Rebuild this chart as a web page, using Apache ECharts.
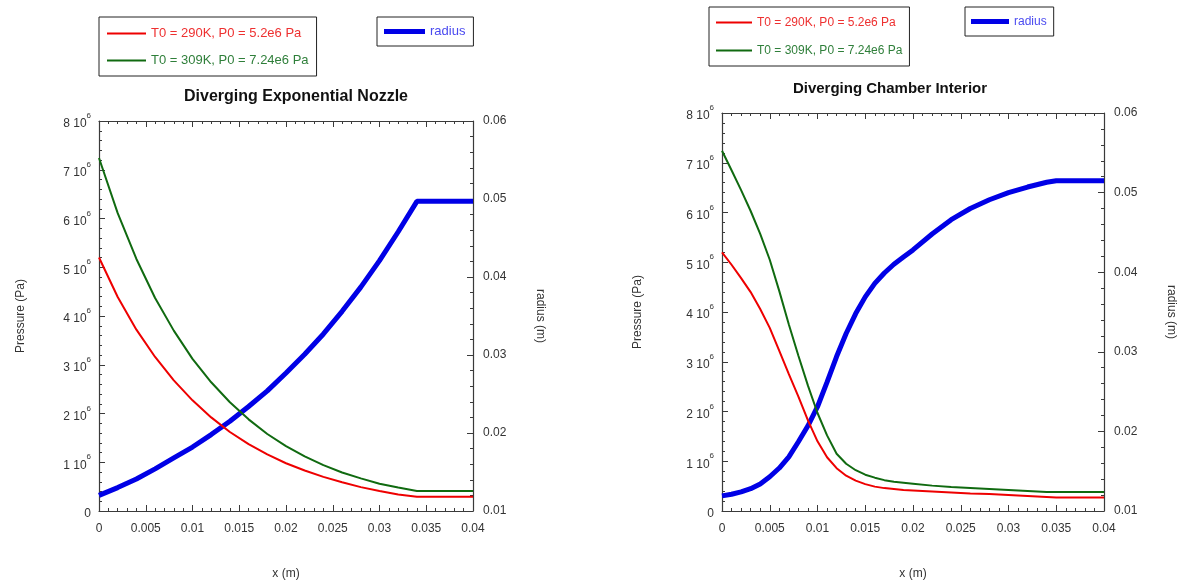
<!DOCTYPE html>
<html>
<head>
<meta charset="utf-8">
<script src="https://cdn.jsdelivr.net/npm/echarts@6/dist/echarts.min.js"></script>
<style>
html,body{margin:0;padding:0;background:#fff;}
#c{width:1182px;height:585px;}
</style>
</head>
<body>
<div id="c"></div>
<script>
// ---------- Data ----------
const nameRed = 'T0 = 290K, P0 = 5.2e6 Pa';
const nameGreen = 'T0 = 309K, P0 = 7.24e6 Pa';
const nameRadius = 'radius';

const titleNozzle = 'Diverging Exponential Nozzle';
const titleChamber = 'Diverging Chamber Interior';

// Diverging Exponential Nozzle (x in m, pressure in Pa, radius in m)
const nozzleX = [0,0.002,0.004,0.006,0.008,0.010,0.012,0.014,0.016,0.018,0.020,0.022,0.024,0.026,0.028,0.030,0.032,0.034,0.040];
const nozzleRed = [5.20e6,4.39e6,3.72e6,3.16e6,2.68e6,2.27e6,1.92e6,1.62e6,1.37e6,1.16e6,0.98e6,0.83e6,0.70e6,0.59e6,0.49e6,0.41e6,0.34e6,0.29e6,0.29e6];
const nozzleGreen = [7.24e6,6.11e6,5.17e6,4.37e6,3.70e6,3.12e6,2.64e6,2.23e6,1.88e6,1.58e6,1.33e6,1.12e6,0.94e6,0.79e6,0.67e6,0.56e6,0.48e6,0.41e6,0.41e6];
const nozzleRadius = [0.0120,0.0130,0.0141,0.0154,0.0168,0.0182,0.0198,0.0215,0.0234,0.0254,0.0277,0.0301,0.0327,0.0356,0.0387,0.0421,0.0458,0.0497,0.0497];

// Diverging Chamber Interior
const chamberX = [0,0.001,0.002,0.003,0.004,0.005,0.006,0.007,0.008,0.009,0.010,0.011,0.012,0.013,0.014,0.015,0.016,0.017,0.018,0.019,0.020,0.022,0.024,0.026,0.028,0.030,0.032,0.034,0.035,0.040];
const chamberRed = [5.20e6,4.95e6,4.68e6,4.40e6,4.06e6,3.68e6,3.22e6,2.75e6,2.30e6,1.82e6,1.40e6,1.08e6,0.86e6,0.71e6,0.61e6,0.54e6,0.49e6,0.46e6,0.44e6,0.42e6,0.41e6,0.39e6,0.37e6,0.35e6,0.34e6,0.32e6,0.30e6,0.28e6,0.27e6,0.27e6];
const chamberGreen = [7.24e6,6.85e6,6.45e6,6.03e6,5.57e6,5.05e6,4.42e6,3.75e6,3.12e6,2.52e6,1.97e6,1.52e6,1.15e6,0.95e6,0.82e6,0.73e6,0.67e6,0.62e6,0.59e6,0.57e6,0.55e6,0.51e6,0.48e6,0.46e6,0.44e6,0.42e6,0.40e6,0.38e6,0.38e6,0.38e6];
const chamberRadius = [0.0119,0.0121,0.0124,0.0128,0.0134,0.0143,0.0154,0.0168,0.0187,0.0207,0.0231,0.0262,0.0294,0.0323,0.0348,0.0369,0.0386,0.0399,0.0410,0.0419,0.0428,0.0448,0.0466,0.0480,0.0491,0.0500,0.0507,0.0513,0.0515,0.0515];

// Axis definitions
const xMin = 0, xMax = 0.04, xStep = 0.005;
const pMin = 0, pMax = 8e6, pStep = 1e6;
const rMin = 0.01, rMax = 0.06, rStep = 0.01;

// ---------- Styles ----------
const FONT = "'Liberation Sans', Arial, sans-serif";
const AX = '#3a3a3a';
const TXT = '#333';
const cRed = '#ee0000', cGreen = '#106a10', cBlue = '#0000e6';

function pairs(xs, ys){ return xs.map((x,i)=>[x, ys[i]]); }

const tickCommon = {
  axisLine:{show:true, onZero:false, lineStyle:{color:AX, width:1.2}},
  axisTick:{show:true, inside:true, length:6, lineStyle:{color:AX}},
  minorTick:{show:true, splitNumber:5, length:3, lineStyle:{color:AX}},
  splitLine:{show:false}
};

function xAxes(gi){
  return [
    Object.assign({}, tickCommon, {
      type:'value', gridIndex:gi, position:'bottom', min:xMin, max:xMax, interval:xStep,
      name:'x (m)', nameLocation:'middle', nameGap:57,
      nameTextStyle:{fontFamily:FONT, fontSize:12, color:TXT},
      axisLabel:{fontFamily:FONT, fontSize:12, color:TXT, margin:12,
        formatter:v=>String(+v.toFixed(3))}
    }),
    Object.assign({}, tickCommon, {
      type:'value', gridIndex:gi, position:'top', min:xMin, max:xMax, interval:xStep,
      axisLabel:{show:false}
    })
  ];
}
function yAxes(gi){
  return [
    Object.assign({}, tickCommon, {
      type:'value', gridIndex:gi, position:'left', min:pMin, max:pMax, interval:pStep,
      name:'Pressure (Pa)', nameLocation:'middle', nameGap:gi===0?72:78, nameRotate:90,
      nameTextStyle:{fontFamily:FONT, fontSize:12, color:TXT},
      axisLabel:{margin:8, formatter:v=> v===0 ? '{n|0}' : '{n|'+Math.round(v/1e6)+' 10}{s|6}',
        rich:{n:{fontFamily:FONT, fontSize:12, color:TXT, lineHeight:18, verticalAlign:'bottom'},
              s:{fontFamily:FONT, fontSize:8, color:TXT, lineHeight:18, verticalAlign:'top'}}}
    }),
    Object.assign({}, tickCommon, {
      type:'value', gridIndex:gi, position:'right', min:rMin, max:rMax, interval:rStep,
      name:'radius (m)', nameLocation:'middle', nameGap:61, nameRotate:-90,
      nameTextStyle:{fontFamily:FONT, fontSize:12, color:TXT},
      axisLabel:{fontFamily:FONT, fontSize:12, color:TXT, margin:10,
        formatter:v=>String(+v.toFixed(2))}
    })
  ];
}

function seriesFor(xi, yi, xs, red, green, rad){
  const base = {type:'line', symbol:'none', animation:false, smooth:false};
  return [
    Object.assign({}, base, {name:nameRadius, xAxisIndex:xi, yAxisIndex:yi+1, data:pairs(xs, rad),
     lineStyle:{color:cBlue, width:5}, itemStyle:{color:cBlue}}),
    Object.assign({}, base, {name:nameRed, xAxisIndex:xi, yAxisIndex:yi, data:pairs(xs, red),
     lineStyle:{color:cRed, width:2}, itemStyle:{color:cRed}}),
    Object.assign({}, base, {name:nameGreen, xAxisIndex:xi, yAxisIndex:yi, data:pairs(xs, green),
     lineStyle:{color:cGreen, width:2}, itemStyle:{color:cGreen}})
  ];
}

function pLegend(left, top, gap, w, pad, fs){
  return {left:left, top:top, orient:'vertical', itemGap:gap, itemWidth:w, itemHeight:2,
    icon:'rect', itemTextGap:3, padding:pad, borderColor:'#222', borderWidth:1, selectedMode:false,
    textStyle:{fontFamily:FONT, fontSize:fs, lineHeight:15},
    data:[{name:nameRed, icon:'rect', textStyle:{color:'#ee3030'}},
          {name:nameGreen, icon:'rect', textStyle:{color:'#2f7f3a'}}]};
}
function rLegend(left, top, w, pad, fs){
  return {left:left, top:top, itemWidth:w, itemHeight:5, icon:'rect', itemTextGap:2, padding:pad,
    borderColor:'#222', borderWidth:1, selectedMode:false,
    textStyle:{fontFamily:FONT, fontSize:fs, lineHeight:15},
    data:[{name:nameRadius, icon:'rect', textStyle:{color:'#4a4af0'}}]};
}

const option = {
  backgroundColor:'#fff',
  animation:false,
  title:[
    {text:titleNozzle, left:291, top:84, textAlign:'center',
     textStyle:{fontFamily:FONT, fontSize:16, fontWeight:'bold', color:'#111'}},
    {text:titleChamber, left:885, top:76, textAlign:'center',
     textStyle:{fontFamily:FONT, fontSize:15, fontWeight:'bold', color:'#111'}}
  ],
  legend:[
    pLegend(99, 17, 12, 39, [9,8,8,8], 13),
    rLegend(377, 17, 41, [7,8,7,7], 13),
    pLegend(709, 7, 13, 36, [8,7,8,7], 12),
    rLegend(965, 7, 38, [7,7,7,6], 12)
  ],
  grid:[
    {left:99, top:121, width:374, height:393},
    {left:722, top:113, width:382, height:402}
  ],
  xAxis:[].concat(xAxes(0), xAxes(1)),
  yAxis:[].concat(yAxes(0), yAxes(1)),
  series:[].concat(
    seriesFor(0, 0, nozzleX, nozzleRed, nozzleGreen, nozzleRadius),
    seriesFor(2, 2, chamberX, chamberRed, chamberGreen, chamberRadius)
  )
};

const chart = echarts.init(document.getElementById('c'), null, {renderer:'canvas'});
chart.setOption(option);
</script>
</body>
</html>
